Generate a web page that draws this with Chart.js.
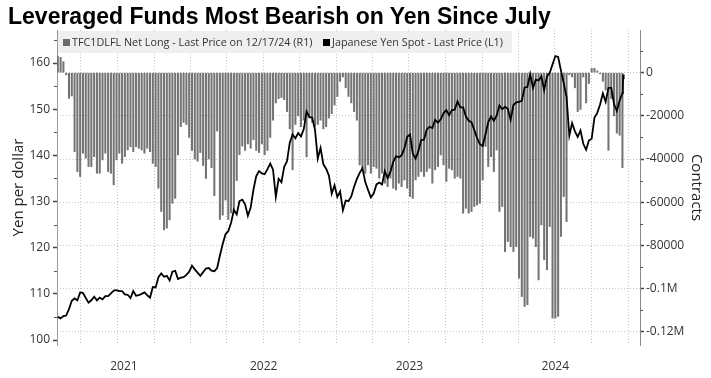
<!DOCTYPE html>
<html>
<head>
<meta charset="utf-8">
<script src="https://cdn.jsdelivr.net/npm/chart.js@4.4.1/dist/chart.umd.min.js"></script>
<style>
  html, body { margin: 0; padding: 0; background: #fff; }
  #wrap { position: relative; width: 711px; height: 378px; overflow: hidden; }
  #c { position: absolute; left: 0; top: 0; }
  #title { position: absolute; left: 8px; top: 5px; font: bold 23px/23px 'Liberation Sans', Arial, sans-serif; color: #000; white-space: nowrap; }
  #legend { position: absolute; left: 58px; top: 31px; width: 454px; height: 22px; background: #efefef; }
  #legend .sw { position: absolute; top: 8px; width: 7px; height: 7px; }
  #legend .lt { position: absolute; top: 3px; font: 10.8px/15px 'Open Sans', sans-serif; color: #333; white-space: nowrap; }
</style>
</head>
<body>
<div id="wrap">
  <canvas id="c" width="711" height="378"></canvas>
  <div id="title">Leveraged Funds Most Bearish on Yen Since July</div>
  <div id="legend">
    <span class="sw" style="left:5px;background:#6b6b6b"></span>
    <span class="lt" style="left:14px">TFC1DLFL Net Long - Last Price on 12/17/24 (R1)</span>
    <span class="sw" style="left:265px;background:#000"></span>
    <span class="lt" style="left:274px">Japanese Yen Spot - Last Price (L1)</span>
  </div>
</div>
<script>
const DAY = 86400000;
const toDay = s => { const p = s.split('-').map(Number); return Date.UTC(p[0], p[1] - 1, p[2]) / DAY; };

// visible window and weekly CFTC report dates (Tuesdays)
const viewStart = '2021-01-31';
const viewEnd = '2025-01-30';
const firstReport = '2021-02-02';

// leveraged funds net long yen futures, contracts (R1)
const netLong = [
  7700, 7100, 5100, -1000, -11900, -10800,
  -36600, -45800, -48100, -37300, -39600, -43500, -43500, -38900, -46600, -46600,
  -40400, -37300, -45800, -46600, -52000, -40400, -37300, -42000, -38900, -35800,
  -34300, -36600, -34300, -35000, -35800, -37300, -35000, -36600, -42000, -43500,
  -53500, -64300, -72800, -72000, -68200, -60500, -58200, -38100,
  -25000, -23000, -24000, -30000, -36000, -40000, -41000, -37000, -43000, -49000, -40000, -44000,
  -57000, -27000, -68000, -66000, -59000, -68000, -65000, -64000, -50000, -38000,
  -34000, -36000, -33000, -35000, -31000, -36000, -37000, -33000, -38000, -36000,
  -30000, -22000, -14000, -12000, -11500, -12500, -18000, -26000, -45000, -24000,
  -20000, -25000, -22000, -39000, -21000, -23000, -25000, -24000, -22000, -26000,
  -25000, -21000, -19000, -15000, -11000, -4000, -2000, -7000, -11000, -14000, -18000, -22000,
  -42700, -44300, -46600, -42700, -46600, -43500, -44300, -48900, -46600, -51200,
  -52800, -48900, -53500, -54300, -51200, -52800, -49700, -53500, -57400, -58200,
  -49700, -48100, -45800, -48100, -45800, -44300, -51200, -45000, -43500,
  -38100, -42700, -50400, -44300, -45000, -48900, -48100, -48900,
  -65100, -62800, -65100, -64300, -62000, -61300, -60500,
  -49700, -34200, -43500, -38900, -45800, -35800, -64300, -62000,
  -82900, -78200, -80600, -82900, -80600, -95200, -103700, -108300, -107500,
  -75900, -76700, -80600, -96000, -70500, -86700, -91300, -71300,
  -113700, -113700, -112900, -75900, -57400, -69000,
  -1000, -2000, -7000, -18000, -17000, -2000, -14000, -5000, 2000, 2000,
  800, -500, -4000, -8000, -36000, -12000, -20000, -28000, -29000, -44000
];

// USDJPY spot on the same weekly dates (L1)
const yenClose = [
  105.0, 104.7, 105.2, 105.3, 106.7, 108.5, 109.0, 108.6, 110.3, 110.2,
  109.1, 108.1, 108.6, 109.4, 108.6, 109.2, 108.8, 109.5, 109.5, 110.1,
  110.7, 110.8, 110.6, 110.6, 109.9, 109.8, 109.1, 110.6, 109.6, 109.7,
  110.0, 110.3, 109.7, 109.2, 111.5, 111.4, 113.6, 114.4, 113.7, 113.9,
  112.9, 114.8, 115.0, 113.2, 113.5, 113.6, 114.1, 114.8, 116.1, 115.3,
  114.6, 113.9, 114.7, 115.5, 115.6, 115.0, 114.9, 115.6, 118.3, 120.8,
  122.9, 123.6, 125.4, 128.2, 127.2, 130.1, 130.4, 129.4, 126.9, 128.7,
  132.6, 135.5, 136.6, 136.1, 135.9, 137.0, 138.2, 136.9, 131.0, 134.9,
  134.2, 137.5, 138.7, 142.8, 144.5, 143.7, 144.8, 144.1, 145.7, 149.5,
  148.3, 148.2, 145.6, 139.3, 141.6, 138.1, 137.1, 135.6, 131.7, 133.5,
  131.0, 132.2, 128.1, 130.2, 130.1, 131.1, 133.2, 134.9, 136.2, 137.2,
  134.2, 132.5, 130.9, 131.7, 133.7, 134.1, 133.7, 136.6, 135.1, 136.4,
  138.6, 139.8, 139.6, 140.0, 141.5, 144.0, 144.5, 140.4, 139.3, 140.9,
  143.3, 143.4, 145.6, 146.2, 145.9, 147.7, 147.1, 147.8, 149.1, 149.8,
  148.7, 149.8, 149.9, 151.7, 150.4, 150.4, 148.4, 147.5, 147.2, 145.5,
  143.8, 142.4, 142.0, 144.5, 147.2, 148.4, 147.5, 148.6, 150.8, 150.0,
  150.5, 150.1, 147.7, 150.9, 151.5, 151.6, 151.8, 154.7, 154.8, 157.6,
  154.6, 156.4, 156.2, 157.1, 154.1, 157.1, 157.9, 159.7, 161.5, 161.3,
  158.4, 155.6, 152.7, 144.3, 147.0, 145.2, 144.0, 145.4, 142.5, 141.2,
  143.2, 143.6, 148.2, 149.2, 151.0, 153.4, 151.6, 154.6, 154.6, 151.1,
  149.6, 151.9, 153.5
];
// last spot prints after the final report date
const yenTailDates = ['2024-12-18', '2024-12-19', '2024-12-20'];
const yenTail = [154.7, 157.5, 156.5];

const yenTicks = [100, 110, 120, 130, 140, 150, 160];
const contractTicks = [0, -20000, -40000, -60000, -80000, -100000, -120000];
const contractTickLabels = ['0', '-20000', '-40000', '-60000', '-80000', '-0.1M', '-0.12M'];
const yearLabels = ['2021', '2022', '2023', '2024'];

const yenRange = [98.92, 167.15];
const contractRange = [-126160, 19780];

const weekDays = netLong.map((_, i) => toDay(firstReport) + 7 * i);
const barPoints = netLong.map((v, i) => ({ x: weekDays[i], y: v }));
const yenPoints = yenClose.map((v, i) => ({ x: weekDays[i], y: v }))
  .concat(yenTail.map((v, i) => ({ x: toDay(yenTailDates[i]), y: v })));

const xMin = toDay(viewStart), xMax = toDay(viewEnd);
const quarterDays = [];
for (let y = 2021; y <= 2025; y++) {
  for (const m of [0, 3, 6, 9]) {
    const d = Date.UTC(y, m, 1) / DAY;
    if (d > xMin && d < xMax) quarterDays.push(d);
  }
}
// year label sits in the middle of the visible part of the year
const yearMid = yearLabels.map(y => {
  const a = Math.max(xMin, toDay(y + '-01-01'));
  const b = Math.min(xMax, toDay((+y + 1) + '-01-01'));
  return (a + b) / 2;
});

const gridGray = '#c6c6c6';

// short minor tick marks between the labelled ones
const minorTicks = {
  id: 'minorTicks',
  afterDraw(chart) {
    const ctx = chart.ctx;
    const l = chart.scales.yYen, r = chart.scales.yNet;
    ctx.save();
    ctx.strokeStyle = '#555';
    ctx.lineWidth = 1;
    for (let v = 105; v < l.max; v += 10) {
      const y = Math.round(l.getPixelForValue(v)) + 0.5;
      ctx.beginPath(); ctx.moveTo(l.right - 3, y); ctx.lineTo(l.right, y); ctx.stroke();
    }
    for (let v = 10000; v > r.min; v -= 20000) {
      const y = Math.round(r.getPixelForValue(v)) + 0.5;
      ctx.beginPath(); ctx.moveTo(r.left, y); ctx.lineTo(r.left + 3, y); ctx.stroke();
    }
    ctx.restore();
  }
};

Chart.defaults.font.family = "'Open Sans', sans-serif";
Chart.defaults.color = '#333';

new Chart(document.getElementById('c'), {
  type: 'bar',
  data: {
    datasets: [
      {
        type: 'line',
        label: 'Japanese Yen Spot - Last Price (L1)',
        data: yenPoints,
        xAxisID: 'x',
        yAxisID: 'yYen',
        borderColor: '#000',
        borderWidth: 1.8,
        pointRadius: 0,
        tension: 0,
        order: 0
      },
      {
        type: 'bar',
        label: 'TFC1DLFL Net Long - Last Price on 12/17/24 (R1)',
        data: barPoints,
        xAxisID: 'x',
        yAxisID: 'yNet',
        backgroundColor: '#747474',
        barThickness: 1.4,
        order: 1
      }
    ]
  },
  options: {
    responsive: false,
    animation: false,
    devicePixelRatio: 1,
    events: [],
    layout: { padding: { top: 30, left: 0, right: 0, bottom: 0 } },
    plugins: { legend: { display: false }, tooltip: { enabled: false } },
    scales: {
      x: {
        type: 'linear',
        position: 'bottom',
        min: xMin,
        max: xMax,
        offset: false,
        afterBuildTicks: s => { s.ticks = quarterDays.map(v => ({ value: v })); },
        afterFit: s => { s.height = 0; },
        ticks: { display: false },
        grid: { offset: false, color: gridGray, lineWidth: 1, drawTicks: false, borderDash: [1, 2] },
        border: { display: false, dash: [1, 2] }
      },
      xYears: {
        type: 'linear',
        position: 'bottom',
        min: xMin,
        max: xMax,
        offset: false,
        afterBuildTicks: s => { s.ticks = yearMid.map(v => ({ value: v })); },
        afterFit: s => { s.height = 33; },
        ticks: {
          autoSkip: false,
          maxRotation: 0,
          padding: 14,
          color: '#333',
          font: { size: 12 },
          callback: (v, i) => yearLabels[i]
        },
        grid: { display: false, drawTicks: false, offset: false },
        border: { display: false }
      },
      yYen: {
        type: 'linear',
        position: 'left',
        min: yenRange[0],
        max: yenRange[1],
        afterBuildTicks: s => { s.ticks = yenTicks.map(v => ({ value: v })); },
        afterFit: s => { s.width = 57; },
        ticks: { autoSkip: false, padding: 3, color: '#333', font: { size: 12 } },
        grid: { drawOnChartArea: false, drawTicks: true, tickLength: 4, tickWidth: 1.5, tickColor: '#444' },
        border: { display: true, color: '#999', width: 1 },
        title: { display: true, text: 'Yen per dollar', color: '#222', font: { size: 15 }, padding: { top: 10, bottom: 0 } }
      },
      yNet: {
        type: 'linear',
        position: 'right',
        min: contractRange[0],
        max: contractRange[1],
        afterBuildTicks: s => { s.ticks = contractTicks.map(v => ({ value: v })); },
        afterFit: s => { s.width = 71; },
        ticks: {
          autoSkip: false,
          padding: 2,
          color: '#333',
          font: { size: 12 },
          callback: (v, i) => contractTickLabels[i]
        },
        grid: { drawOnChartArea: true, color: gridGray, lineWidth: 1, drawTicks: true, tickLength: 4, tickWidth: 1.5, tickColor: '#444', borderDash: [1, 2] },
        border: { display: true, color: '#888', width: 1, dash: [1, 2] },
        title: { display: true, text: 'Contracts', color: '#222', font: { size: 15 }, padding: { top: 6, bottom: 0 } }
      }
    }
  },
  plugins: [minorTicks]
});
</script>
</body>
</html>
